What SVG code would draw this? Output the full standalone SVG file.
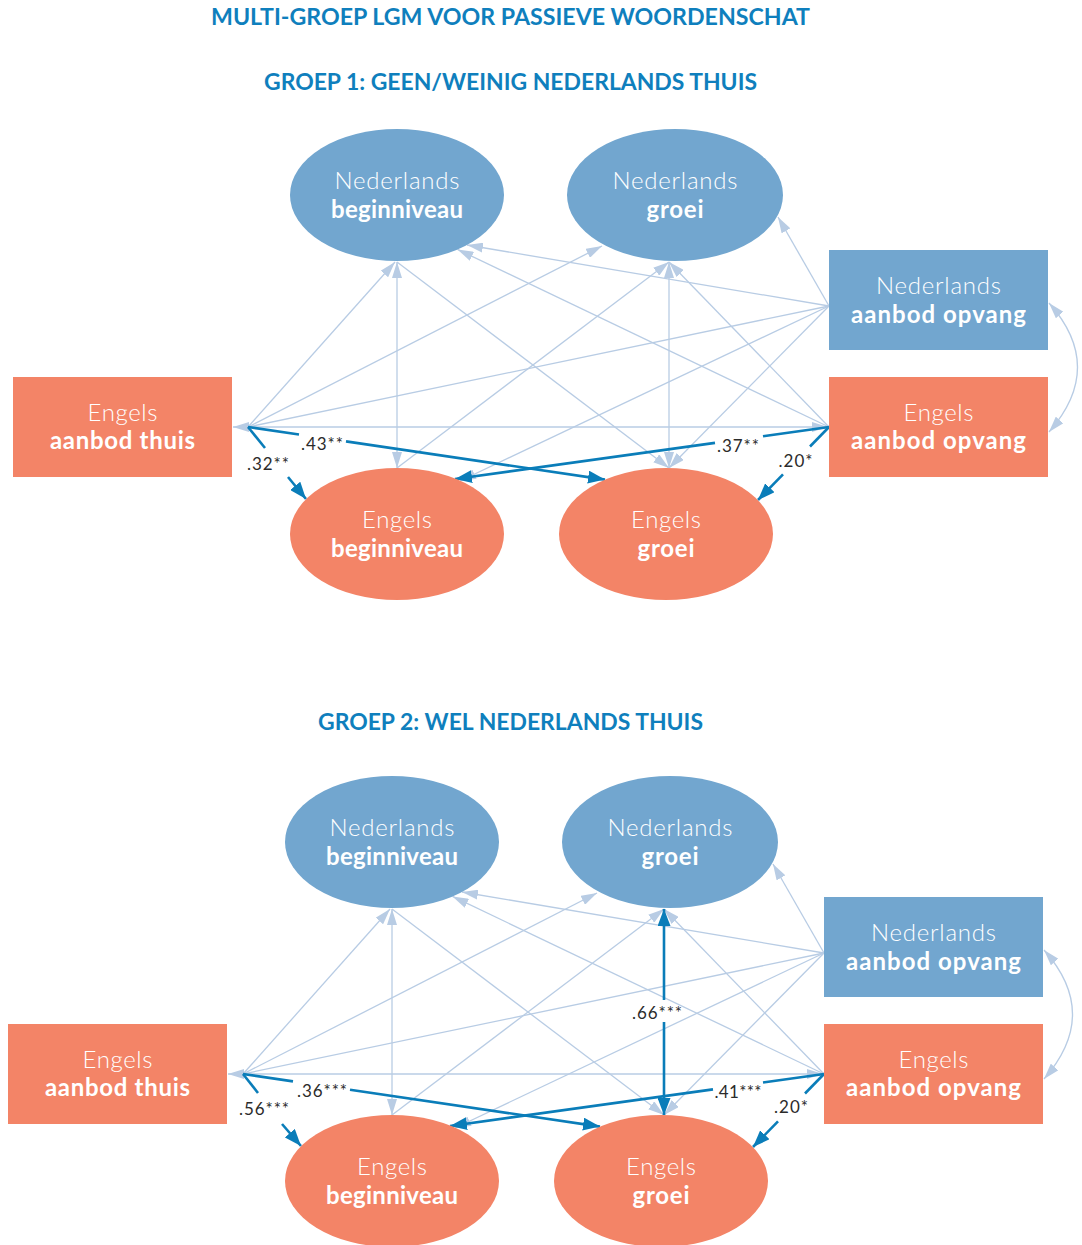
<svg xmlns="http://www.w3.org/2000/svg" width="1082" height="1245" viewBox="0 0 1082 1245">
<style>
.title{font-family:Lato,"Liberation Sans",sans-serif;font-weight:700;font-size:22px;fill:#0f7fbd}
.nl{font-family:Lato,"Open Sans",sans-serif;font-weight:300;font-size:24px;fill:#ffffff}
.nb{font-family:Lato,"Open Sans",sans-serif;font-weight:700;font-size:24px;fill:#ffffff}
.lbl{font-family:Lato,"Open Sans",sans-serif;font-weight:400;font-size:17px;fill:#2b2b2b}
.blue{fill:#72a6cf}
.orange{fill:#f38467}
.lt{fill:none;stroke:#b8cce4;stroke-width:1.3}
.dk{fill:none;stroke:#0a7db9;stroke-width:2.6}
</style>
<defs>
<marker id="la" markerUnits="userSpaceOnUse" viewBox="0 0 16 10" refX="16" refY="5" markerWidth="16" markerHeight="10" orient="auto-start-reverse"><path d="M0,0 L16,5 L0,10 z" fill="#b8cce4"/></marker>
<marker id="da" markerUnits="userSpaceOnUse" viewBox="0 0 17 13" refX="17" refY="6.5" markerWidth="17" markerHeight="13" orient="auto-start-reverse"><path d="M0,0 L17,6.5 L0,13 z" fill="#0a7db9"/></marker>
</defs>
<rect width="1082" height="1245" fill="#ffffff"/>
<text class="title" x="510.5" y="25" text-anchor="middle" textLength="599" lengthAdjust="spacingAndGlyphs">MULTI-GROEP LGM VOOR PASSIEVE WOORDENSCHAT</text>
<text class="title" x="510.5" y="90" text-anchor="middle" textLength="493" lengthAdjust="spacingAndGlyphs">GROEP 1: GEEN/WEINIG NEDERLANDS THUIS</text>
<text class="title" x="510.5" y="730" text-anchor="middle" textLength="385" lengthAdjust="spacingAndGlyphs">GROEP 2: WEL NEDERLANDS THUIS</text>

<g id="groep1">
<g id="g1-connectors">
<path class="lt" d="M248,427 L395,262" marker-end="url(#la)"/>
<path class="lt" d="M248,427 L602,246" marker-end="url(#la)"/>
<path class="lt" d="M248,427 L829,306"/>
<path class="lt" d="M233,427 L828,427" marker-start="url(#la)" marker-end="url(#la)"/>
<path class="lt" d="M397,262 L397,468" marker-start="url(#la)" marker-end="url(#la)"/>
<path class="lt" d="M397,262 L669,468" marker-end="url(#la)"/>
<path class="lt" d="M397,468 L669,262" marker-end="url(#la)"/>
<path class="lt" d="M669,262 L669,468" marker-start="url(#la)" marker-end="url(#la)"/>
<path class="lt" d="M829,306 L778,217" marker-end="url(#la)"/>
<path class="lt" d="M829,306 L467,245" marker-end="url(#la)"/>
<path class="lt" d="M829,306 L460,481" marker-end="url(#la)"/>
<path class="lt" d="M829,306 L669,468" marker-end="url(#la)"/>
<path class="lt" d="M829,427 L457.5,249.4" marker-end="url(#la)"/>
<path class="lt" d="M829,427 L669,262" marker-end="url(#la)"/>
<path class="lt" d="M1049,303 Q1106,367 1049,432" marker-start="url(#la)" marker-end="url(#la)"/>
<path class="dk" d="M248,427 L265,448"/>
<path class="dk" d="M288,477 L306,499" marker-end="url(#da)"/>
<path class="dk" d="M248,427 L299,434.5"/>
<path class="dk" d="M346,441.4 L605,479.6" marker-end="url(#da)"/>
<path class="dk" d="M829,427 L763,436.2"/>
<path class="dk" d="M715,442.9 L455,479" marker-end="url(#da)"/>
<path class="dk" d="M829,427 L810,446.5"/>
<path class="dk" d="M783,474.3 L758,500" marker-end="url(#da)"/>
<text class="lbl" x="268" y="470" text-anchor="middle" textLength="42">.32**</text>
<text class="lbl" x="322" y="450" text-anchor="middle" textLength="42">.43**</text>
<text class="lbl" x="738" y="452" text-anchor="middle" textLength="42">.37**</text>
<text class="lbl" x="795.5" y="467" text-anchor="middle" textLength="34">.20*</text>
</g>
<g id="g1-ned-beginniveau">
<ellipse class="blue" cx="397" cy="195" rx="107" ry="66"/>
<text class="nl" x="397" y="189" text-anchor="middle" textLength="125">Nederlands</text>
<text class="nb" x="397" y="218" text-anchor="middle" textLength="132">beginniveau</text>
</g>
<g id="g1-ned-groei">
<ellipse class="blue" cx="675" cy="195" rx="108" ry="66"/>
<text class="nl" x="675" y="189" text-anchor="middle" textLength="125">Nederlands</text>
<text class="nb" x="675" y="218" text-anchor="middle" textLength="57">groei</text>
</g>
<g id="g1-ned-aanbod-opvang">
<rect class="blue" x="829" y="250" width="219" height="100"/>
<text class="nl" x="938.5" y="294" text-anchor="middle" textLength="125">Nederlands</text>
<text class="nb" x="938.5" y="323" text-anchor="middle" textLength="175">aanbod opvang</text>
</g>
<g id="g1-eng-aanbod-opvang">
<rect class="orange" x="829" y="377" width="219" height="100"/>
<text class="nl" x="938.5" y="421" text-anchor="middle" textLength="70">Engels</text>
<text class="nb" x="938.5" y="449" text-anchor="middle" textLength="175">aanbod opvang</text>
</g>
<g id="g1-eng-aanbod-thuis">
<rect class="orange" x="13" y="377" width="219" height="100"/>
<text class="nl" x="122.5" y="421" text-anchor="middle" textLength="70">Engels</text>
<text class="nb" x="122.5" y="449" text-anchor="middle" textLength="145">aanbod thuis</text>
</g>
<g id="g1-eng-beginniveau">
<ellipse class="orange" cx="397" cy="534" rx="107" ry="66"/>
<text class="nl" x="397" y="528" text-anchor="middle" textLength="70">Engels</text>
<text class="nb" x="397" y="557" text-anchor="middle" textLength="132">beginniveau</text>
</g>
<g id="g1-eng-groei">
<ellipse class="orange" cx="666" cy="534" rx="107" ry="66"/>
<text class="nl" x="666" y="528" text-anchor="middle" textLength="70">Engels</text>
<text class="nb" x="666" y="557" text-anchor="middle" textLength="57">groei</text>
</g>
</g>

<g id="groep2" transform="translate(-5,647)">
<g id="g2-connectors">
<path class="lt" d="M248,427 L395,262" marker-end="url(#la)"/>
<path class="lt" d="M248,427 L602,246" marker-end="url(#la)"/>
<path class="lt" d="M248,427 L829,306"/>
<path class="lt" d="M233,427 L828,427" marker-start="url(#la)" marker-end="url(#la)"/>
<path class="lt" d="M397,262 L397,468" marker-start="url(#la)" marker-end="url(#la)"/>
<path class="lt" d="M397,262 L669,468" marker-end="url(#la)"/>
<path class="lt" d="M397,468 L669,262" marker-end="url(#la)"/>
<path class="lt" d="M829,306 L778,217" marker-end="url(#la)"/>
<path class="lt" d="M829,306 L467,245" marker-end="url(#la)"/>
<path class="lt" d="M829,306 L460,481" marker-end="url(#la)"/>
<path class="lt" d="M829,306 L669,468" marker-end="url(#la)"/>
<path class="lt" d="M829,427 L457.5,249.4" marker-end="url(#la)"/>
<path class="lt" d="M829,427 L669,262" marker-end="url(#la)"/>
<path class="lt" d="M1049,303 Q1106,367 1049,432" marker-start="url(#la)" marker-end="url(#la)"/>
<path class="dk" d="M669,262 L669,353" marker-start="url(#da)"/>
<path class="dk" d="M669,375 L669,468" marker-end="url(#da)"/>
<path class="dk" d="M248,427 L263,446"/>
<path class="dk" d="M287,477 L306,499" marker-end="url(#da)"/>
<path class="dk" d="M248,427 L298,434.4"/>
<path class="dk" d="M355,442.8 L605,479.6" marker-end="url(#da)"/>
<path class="dk" d="M829,427 L768,435.5"/>
<path class="dk" d="M718,442.4 L455,479" marker-end="url(#da)"/>
<path class="dk" d="M829,427 L810,446.5"/>
<path class="dk" d="M783,474.3 L758,500" marker-end="url(#da)"/>
<text class="lbl" x="662" y="372" text-anchor="middle" textLength="50">.66***</text>
<text class="lbl" x="269" y="468" text-anchor="middle" textLength="50">.56***</text>
<text class="lbl" x="327" y="450" text-anchor="middle" textLength="50">.36***</text>
<text class="lbl" x="743" y="451" text-anchor="middle" textLength="47">.41***</text>
<text class="lbl" x="796" y="466" text-anchor="middle" textLength="34">.20*</text>
</g>
<g id="g2-ned-beginniveau">
<ellipse class="blue" cx="397" cy="195" rx="107" ry="66"/>
<text class="nl" x="397" y="189" text-anchor="middle" textLength="125">Nederlands</text>
<text class="nb" x="397" y="218" text-anchor="middle" textLength="132">beginniveau</text>
</g>
<g id="g2-ned-groei">
<ellipse class="blue" cx="675" cy="195" rx="108" ry="66"/>
<text class="nl" x="675" y="189" text-anchor="middle" textLength="125">Nederlands</text>
<text class="nb" x="675" y="218" text-anchor="middle" textLength="57">groei</text>
</g>
<g id="g2-ned-aanbod-opvang">
<rect class="blue" x="829" y="250" width="219" height="100"/>
<text class="nl" x="938.5" y="294" text-anchor="middle" textLength="125">Nederlands</text>
<text class="nb" x="938.5" y="323" text-anchor="middle" textLength="175">aanbod opvang</text>
</g>
<g id="g2-eng-aanbod-opvang">
<rect class="orange" x="829" y="377" width="219" height="100"/>
<text class="nl" x="938.5" y="421" text-anchor="middle" textLength="70">Engels</text>
<text class="nb" x="938.5" y="449" text-anchor="middle" textLength="175">aanbod opvang</text>
</g>
<g id="g2-eng-aanbod-thuis">
<rect class="orange" x="13" y="377" width="219" height="100"/>
<text class="nl" x="122.5" y="421" text-anchor="middle" textLength="70">Engels</text>
<text class="nb" x="122.5" y="449" text-anchor="middle" textLength="145">aanbod thuis</text>
</g>
<g id="g2-eng-beginniveau">
<ellipse class="orange" cx="397" cy="534" rx="107" ry="66"/>
<text class="nl" x="397" y="528" text-anchor="middle" textLength="70">Engels</text>
<text class="nb" x="397" y="557" text-anchor="middle" textLength="132">beginniveau</text>
</g>
<g id="g2-eng-groei">
<ellipse class="orange" cx="666" cy="534" rx="107" ry="66"/>
<text class="nl" x="666" y="528" text-anchor="middle" textLength="70">Engels</text>
<text class="nb" x="666" y="557" text-anchor="middle" textLength="57">groei</text>
</g>
</g>
</svg>
